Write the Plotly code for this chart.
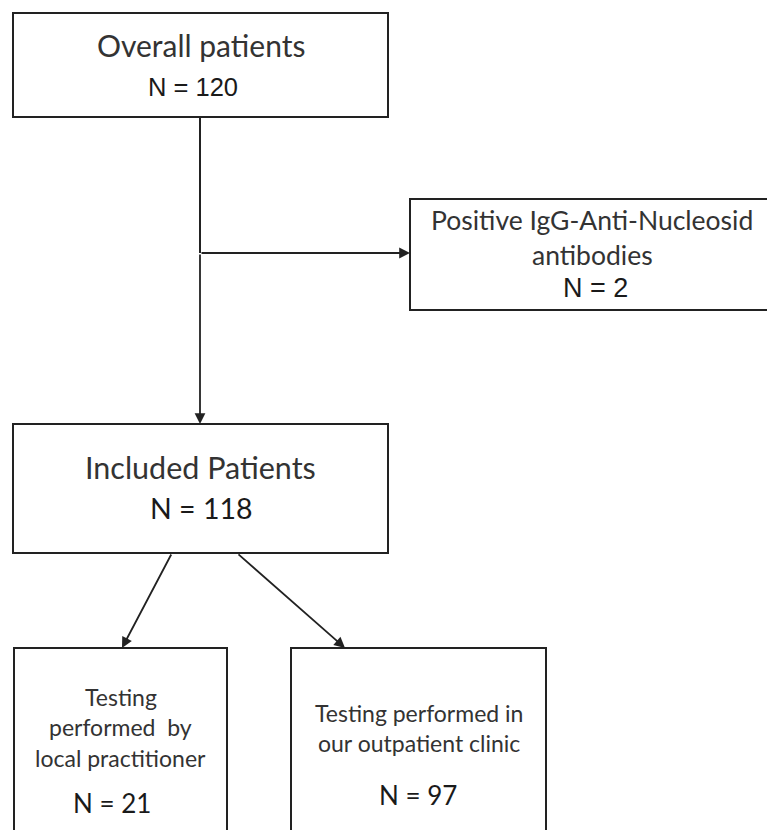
import plotly.graph_objects as go

# ---- data ----
node_titles = [
    ["Overall patients"],
    ["Positive IgG-Anti-Nucleosid", "antibodies"],
    ["Included Patients"],
    ["Testing", "performed  by", "local practitioner"],
    ["Testing performed in", "our outpatient clinic"],
]
node_counts = [120, 2, 118, 21, 97]

# ---- layout (page pixel coordinates, y downward) ----
boxes = [  # x0, y0, x1, y1
    (13, 13, 388, 117),
    (410, 199, 774, 310),
    (13, 424, 388, 553),
    (14, 648, 227, 860),
    (291, 648, 546, 860),
]
title_y = [[45], [220, 255], [467], [697, 727, 758], [713, 743]]
count_y = [87, 288, 508, 803, 795]
count_dx = [-8, 3, 0, -9, -1]
title_size = [30, 26.5, 30.5, 23, 23]
count_size = [25.5, 27, 28.5, 26, 26]
count_font = ["Liberation Sans, Arial", "Liberation Sans, Arial", "Lato, sans-serif",
              "Lato, sans-serif", "Lato, sans-serif"]
TEXT_FONT = "Lato, Carlito, sans-serif"
LINE = "#222222"
OFF = 8  # page body margin

fig = go.Figure()
fig.add_trace(go.Scatter(x=[OFF, 775], y=[OFF, 830], mode="markers",
                         marker=dict(opacity=0), hoverinfo="skip", showlegend=False))

shapes = []
annotations = []
for i, (x0, y0, x1, y1) in enumerate(boxes):
    shapes.append(dict(type="rect", x0=x0, y0=y0, x1=x1, y1=y1, xref="x", yref="y",
                       line=dict(color=LINE, width=2), fillcolor="white", layer="below"))
    cx = (x0 + x1) / 2
    for line, ly in zip(node_titles[i], title_y[i]):
        annotations.append(dict(x=cx, y=ly, xref="x", yref="y", text=line, showarrow=False,
                                font=dict(family=TEXT_FONT, size=title_size[i], color="#333333"),
                                xanchor="center", yanchor="middle"))
    annotations.append(dict(x=cx + count_dx[i], y=count_y[i], xref="x", yref="y",
                            text=f"N = {node_counts[i]}", showarrow=False,
                            font=dict(family=count_font[i], size=count_size[i], color="#1a1a1a"),
                            xanchor="center", yanchor="middle"))

# connectors
shapes.append(dict(type="line", x0=200, y0=117, x1=200, y1=253, xref="x", yref="y",
                   line=dict(color=LINE, width=2)))

def arrow(x0, y0, x1, y1):
    return dict(x=x1, y=y1, ax=x0, ay=y0, xref="x", yref="y", axref="x", ayref="y",
                text="", showarrow=True, arrowhead=2, arrowsize=1.2, arrowwidth=1.8,
                arrowcolor=LINE)

annotations += [
    arrow(200, 253, 200, 424),
    arrow(200, 253, 410, 253),
    arrow(172, 553, 122, 648),
    arrow(237, 553, 345, 648),
]

fig.update_layout(
    width=775 - OFF, height=830 - OFF, margin=dict(l=0, r=0, t=0, b=0),
    paper_bgcolor="white", plot_bgcolor="white",
    xaxis=dict(range=[OFF, 775], visible=False, fixedrange=True),
    yaxis=dict(range=[830, OFF], visible=False, fixedrange=True),
    shapes=shapes, annotations=annotations, showlegend=False,
)
fig.write_html("out.html")
